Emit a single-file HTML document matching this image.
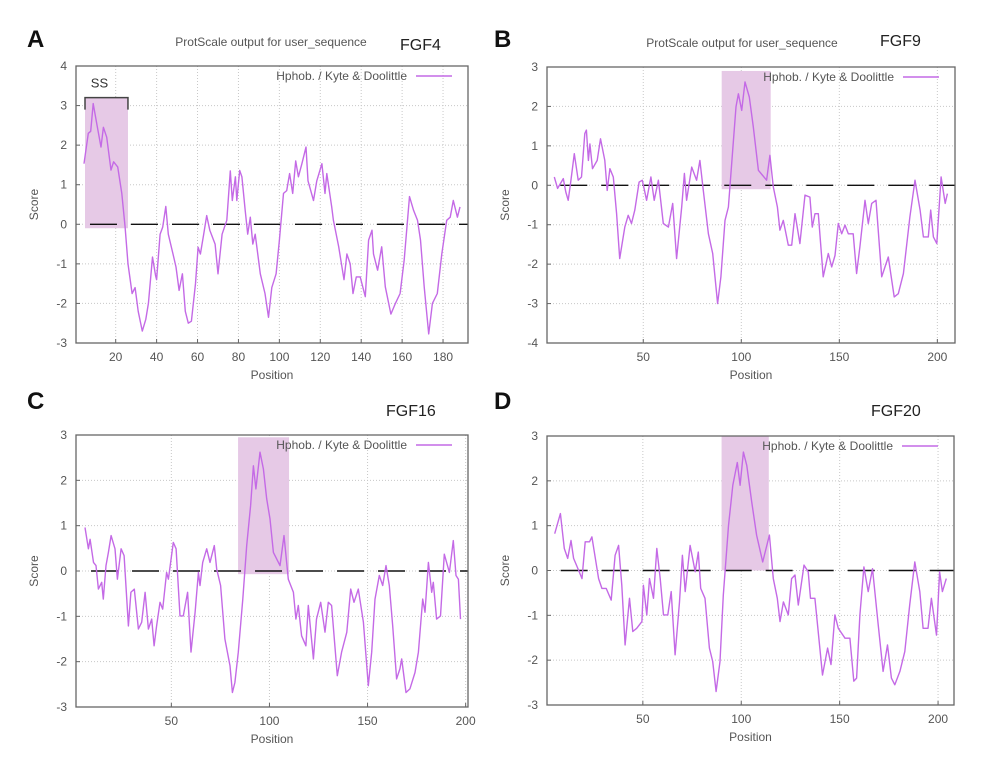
<!DOCTYPE html>
<html><head><meta charset="utf-8">
<style>
html,body{margin:0;padding:0;background:#fff;}
svg{display:block;font-family:"Liberation Sans",sans-serif;}
</style></head>
<body>
<svg id="fig" width="986" height="766" viewBox="0 0 986 766"></svg>
<script>
// ---- Data (position, Kyte-Doolittle score) ----
const fgf4Pos=[4.5,6.6,7.8,9,10.7,12.8,14,15.6,17.7,19,21,23,24.6,26,28,29.5,31,33,34.7,36,38,39.5,40,41.7,43,44.5,45.7,48,49.5,51,52.6,54,55.5,57,59,60.3,61.4,63,64.5,66,68.6,70,72,74.3,76,77,78.5,79.2,80.6,81.7,83.3,84.5,85.8,87,88.2,90.7,93,94.7,96.3,98.4,100,102,103.6,105,106.5,108,109.3,111,113,114,116.7,118.3,120.8,122.3,123.2,125.6,126.4,129,131.6,133,134.6,136,137.6,139.5,142,143.6,145.3,146,148,150,151.8,154.5,156.7,159,161,163.6,165.6,167.5,169,170.8,173,174.8,177.2,179.4,181.8,183.5,185,187,188.3];
const fgf4Val=[1.53,2.3,2.35,3.05,2.55,1.95,2.45,2.2,1.37,1.58,1.45,0.78,-0.07,-1,-1.75,-1.6,-2.2,-2.7,-2.4,-2,-0.83,-1.3,-1.4,-0.25,-0.07,0.45,-0.25,-0.75,-1.08,-1.67,-1.25,-2.2,-2.5,-2.45,-1.5,-0.58,-0.75,-0.25,0.22,-0.15,-0.5,-1.25,-0.25,0.1,1.35,0.6,1.2,0.6,1.36,1.2,0.35,-0.25,0.18,-0.5,-0.25,-1.25,-1.75,-2.35,-1.6,-1.25,-0.4,0.78,0.85,1.28,0.78,1.6,1.2,1.53,1.95,1.1,0.6,1.1,1.53,0.78,1.28,0.44,0.1,-0.57,-1.4,-0.75,-1,-1.75,-1.33,-1.33,-1.83,-0.4,-0.15,-0.75,-1.16,-0.57,-1.58,-2.27,-2,-1.75,-0.9,0.7,0.35,0.1,-0.4,-1.58,-2.77,-2,-1.75,-0.75,0.1,0.18,0.6,0.18,0.44];

const fgf9Pos=[4.6,6.3,9.2,10.5,11.7,13,14.8,16.8,18.5,20.2,21,22,22.8,24.1,26.5,28.2,30.4,31.6,33,34.7,36.4,38,40.6,42.3,44,45.7,47.9,49.5,51.7,53.9,55.6,57.7,60.2,62.8,65,67,69.6,71,72.1,74.7,77.2,78.9,80.6,83.2,85.4,87.9,89.6,91.7,93.4,95.6,97.3,98.5,100.2,101.9,104.1,106.1,108.7,112.9,114.6,116.3,118.4,119.7,121.4,124,125.7,127.4,129.1,129.9,132.5,135,136.2,137.6,139.3,141.8,144.4,146.1,147.8,149.5,151.2,152.9,154.6,157.1,158.8,160.5,163.1,164.8,166.5,168.7,171.6,173.3,175,178,180.1,182.7,186,188.6,191.2,192.9,195.4,196.6,198,199.7,201.9,204,205.1];
const fgf9Val=[0.21,-0.08,0.17,-0.17,-0.38,0.08,0.8,0.13,0.21,1.31,1.4,0.63,1.05,0.42,0.63,1.18,0.63,-0.13,0.42,0.21,-0.72,-1.86,-1.06,-0.76,-0.97,-0.63,0.08,0.13,-0.38,0.21,-0.38,0.13,-0.97,-1.06,-0.46,-1.86,-0.55,0.3,-0.38,0.46,0.13,0.63,-0.13,-1.23,-1.73,-3,-2.32,-0.89,-0.55,0.89,1.99,2.32,1.9,2.62,2.24,1.48,0.38,0.13,0.76,-0.04,-0.55,-1.14,-0.89,-1.52,-1.52,-0.72,-1.23,-1.48,-0.25,-0.3,-1.06,-0.72,-0.72,-2.32,-1.73,-2.07,-1.78,-0.97,-1.23,-1.01,-1.23,-1.23,-2.24,-1.56,-0.38,-0.97,-0.46,-0.38,-2.32,-2.07,-1.82,-2.83,-2.75,-2.24,-0.8,0.13,-0.63,-1.31,-1.31,-0.63,-1.31,-1.48,0.21,-0.46,-0.21];

const fgf16Pos=[6,7.7,8.6,10.3,11.6,12.8,14.5,15.3,16.7,17.9,19.3,21.3,22.5,24.4,25.9,28.1,29.4,31.1,33.2,34.9,36.6,38.3,40,41.2,42.5,44.2,45.6,47.6,48.5,51,52.4,54.4,56.1,58.3,60,62.1,63.8,64.6,66,68,69.7,71.9,73.1,75.1,77.3,79.9,81.1,82.4,84.1,86.4,88.4,90.4,91.8,93.1,95.2,96.9,98.6,100.3,102,105.4,107.4,109.6,112.2,113.5,114.7,116.4,118.6,119.8,122.4,124,126.1,128.3,130,131.7,134.6,136.8,139.4,141.4,143.1,145.3,147.9,150.4,152.1,153.8,156,157.7,159.4,161.1,162.8,164.8,166.5,167.4,169.6,171.6,174.2,175.9,178.1,179.3,181,182.7,183.5,185.2,187.2,189.1,191.7,193.7,195.1,196.3,197.4];
const fgf16Val=[0.96,0.49,0.7,0.19,0.12,-0.4,-0.25,-0.62,0.12,0.41,0.78,0.49,-0.18,0.49,0.34,-1.21,-0.47,-0.4,-1.28,-1.13,-0.47,-1.28,-1.06,-1.65,-1.21,-0.69,-0.84,-0.03,-0.18,0.63,0.49,-0.99,-0.99,-0.47,-1.79,-0.91,-0.03,-0.32,0.19,0.49,0.19,0.56,0.04,-0.32,-1.5,-2.09,-2.68,-2.46,-1.79,-0.62,0.56,1.44,2.32,1.81,2.62,2.25,1.59,1.15,0.41,0.12,0.78,-0.18,-0.47,-1.06,-0.76,-1.43,-1.65,-0.76,-1.94,-1.06,-0.69,-1.35,-0.69,-0.76,-2.31,-1.79,-1.35,-0.4,-0.69,-0.4,-1.13,-2.53,-1.79,-0.62,-0.1,-0.32,0.12,-0.32,-1.21,-2.38,-2.16,-1.94,-2.68,-2.6,-2.24,-1.79,-0.62,-0.91,0.19,-0.47,-0.25,-1.06,-0.99,0.37,-0.03,0.67,-0.1,-0.18,-1.06];

const fgf20Pos=[5.2,8.1,10.1,11.8,13.5,14.8,17.4,19.1,20.7,22.9,24.1,26.7,27.5,29.2,31.4,33.9,35.9,37.7,39.3,41,43.2,44.9,46.9,49.5,50.3,52,53.4,55.4,57.1,58.8,60.5,62.7,64.4,66.4,68.6,70.1,71.5,74,76.6,78.2,79.4,81.6,83.8,85.5,87.2,89.2,90.9,93.5,95.7,98,99.4,101.1,102.8,105.3,107.8,110.9,114.3,116.3,118.3,119.7,121.4,123.9,125.6,127.3,129,131.9,134,135.2,137.4,141.3,143.9,145.6,147.6,149.3,152.7,155.2,157.2,158.6,160.3,162.3,164.5,166.7,169.6,172.1,174.3,176.3,178,180.6,183.1,185.6,188.2,190.7,192.4,194.9,196.6,199.2,200.8,202.2,204.2];
const fgf20Val=[0.82,1.27,0.49,0.27,0.67,0.27,0,-0.18,0.64,0.64,0.75,0.04,-0.18,-0.4,-0.4,-0.66,0.34,0.56,-0.33,-1.66,-0.62,-1.36,-1.29,-1.14,-0.33,-0.99,-0.18,-0.62,0.49,-0.18,-0.99,-0.99,-0.47,-1.88,-0.7,0.34,-0.47,0.56,-0.03,0.41,-0.4,-0.62,-1.73,-2.03,-2.7,-2.03,-0.55,1.0,1.9,2.41,1.9,2.64,2.34,1.53,0.79,0.19,0.79,-0.18,-0.62,-1.14,-0.7,-0.99,-0.18,-0.1,-0.77,0.12,-0.03,-0.62,-0.62,-2.33,-1.73,-2.1,-0.99,-1.29,-1.51,-1.51,-2.47,-2.4,-0.99,0.08,-0.47,0.04,-1.21,-2.25,-1.66,-2.4,-2.55,-2.25,-1.81,-0.77,0.19,-0.47,-1.29,-1.29,-0.62,-1.44,-0.03,-0.47,-0.18];

const xTicksA=[20,40,60,80,100,120,140,160,180];
const xTicksB=[50,100,150,200];
const yTicksA=[4,3,2,1,0,-1,-2,-3];
const yTicksB=[3,2,1,0,-1,-2,-3,-4];
const yTicksC=[3,2,1,0,-1,-2,-3];
const names=["FGF4","FGF9","FGF16","FGF20"];
const letters=["A","B","C","D"];
// shaded hydrophobic regions [xStart,xEnd,yTop,yBottom]
const regionA=[5,26,3.2,-0.1];
const regionB=[90,115,2.9,-0.1];
const regionC=[84,110,2.95,-0.07];
const regionD=[90,114,3.0,0];

const NS="http://www.w3.org/2000/svg";
const svg=document.getElementById('fig');
function mk(tag,attrs,parent){const e=document.createElementNS(NS,tag);for(const k in attrs)e.setAttribute(k,attrs[k]);(parent||svg).appendChild(e);return e;}

const panels=[
 {L:76,R:468,T:66,B:343,xmin:0.6,xmax:192.2,ymin:-3,ymax:4,pos:fgf4Pos,val:fgf4Val,xt:xTicksA,yt:yTicksA,reg:regionA,title:true,lx:27,ly:47,nx:400,ny:50,ss:true},
 {L:547,R:955,T:67,B:343,xmin:0.9,xmax:209,ymin:-4,ymax:3,pos:fgf9Pos,val:fgf9Val,xt:xTicksB,yt:yTicksB,reg:regionB,title:true,lx:494,ly:47,nx:880,ny:46},
 {L:76,R:468,T:435,B:707,xmin:1.4,xmax:201.2,ymin:-3,ymax:3,pos:fgf16Pos,val:fgf16Val,xt:xTicksB,yt:yTicksC,reg:regionC,title:false,lx:27,ly:409,nx:386,ny:416},
 {L:547,R:954,T:436,B:705,xmin:1.3,xmax:208.1,ymin:-3,ymax:3,pos:fgf20Pos,val:fgf20Val,xt:xTicksB,yt:yTicksC,reg:regionD,title:false,lx:494,ly:409,nx:871,ny:416}
];

panels.forEach((p,i)=>{
  const g=mk('g',{});
  
  
  const X=v=>p.L+(v-p.xmin)/(p.xmax-p.xmin)*(p.R-p.L);
  const Y=v=>p.B-(v-p.ymin)/(p.ymax-p.ymin)*(p.B-p.T);
  // grid
  p.xt.forEach(t=>{const l=mk('line',{x1:X(t),x2:X(t),y1:p.T,y2:p.B,stroke:'#c8c8c8','stroke-width':1,'stroke-dasharray':'1,2'},g);});
  p.yt.forEach(t=>{const l=mk('line',{x1:p.L,x2:p.R,y1:Y(t),y2:Y(t),stroke:'#c8c8c8','stroke-width':1,'stroke-dasharray':'1,2'},g);});
  // region
  const r=p.reg;
  const rect=mk('rect',{x:X(r[0]),y:Y(r[2]),width:X(r[1])-X(r[0]),height:Y(r[3])-Y(r[2]),fill:'#e6c9e6'},g);
  
  
  // zero dashed line
  const z=mk('line',{x1:X(p.pos[0])+6,x2:p.R,y1:Y(0),y2:Y(0),stroke:'#111','stroke-width':1.4,'stroke-dasharray':'27,14'},g);
  
  
  // series
  const d=p.pos.map((v,k)=>(k?'L':'M')+X(v).toFixed(1)+','+Y(p.val[k]).toFixed(1)).join(' ');
  const path=mk('path',{d:d,fill:'none',stroke:'#c46ae6','stroke-width':1.4,'stroke-linejoin':'round'},g);
  
  
  // frame
  const fr=mk('rect',{x:p.L,y:p.T,width:p.R-p.L,height:p.B-p.T,fill:'none',stroke:'#666','stroke-width':1.3},g);
  
  
  // ticks & labels
  p.xt.forEach(t=>{
    mk('line',{x1:X(t),x2:X(t),y1:p.B,y2:p.B-4,stroke:'#666'},g);
    const tx=mk('text',{x:X(t),y:p.B+18,'text-anchor':'middle','font-size':12,fill:'#555'},g);
    tx.textContent=t;
    
    
  });
  p.yt.forEach(t=>{
    mk('line',{x1:p.L,x2:p.L+4,y1:Y(t),y2:Y(t),stroke:'#666'},g);
    const tx=mk('text',{x:p.L-9,y:Y(t)+4,'text-anchor':'end','font-size':12,fill:'#555'},g);
    tx.textContent=t;
    
    
  });
  const xl=mk('text',{x:(p.L+p.R)/2,y:p.B+36,'text-anchor':'middle','font-size':12,fill:'#555'},g);
  xl.textContent='Position';
  
  
  const yc=(p.T+p.B)/2;
  const yl=mk('text',{x:p.L-38,y:yc,'text-anchor':'middle','font-size':12,fill:'#555',transform:'rotate(-90 '+(p.L-38)+' '+yc+')'},g);
  yl.textContent='Score';
  
  
  // legend
  const lg=mk('text',{x:p.R-61,y:p.T+14,'text-anchor':'end','font-size':12,fill:'#555'},g);
  lg.textContent='Hphob. / Kyte & Doolittle';
  
  
  const ll=mk('line',{x1:p.R-52,x2:p.R-16,y1:p.T+10,y2:p.T+10,stroke:'#c46ae6','stroke-width':1.5},g);
  
  
  // titles
  if(p.title){
    const t=mk('text',{x:p.L+195,y:p.T-20,'text-anchor':'middle','font-size':12,fill:'#555'},g);
    t.textContent='ProtScale output for user_sequence';
    
    
  }
  const nm=mk('text',{x:p.nx,y:p.ny,'font-size':16,fill:'#222'},g);
  nm.textContent=names[i];
  
  
  const lt=mk('text',{x:p.lx,y:p.ly,'font-size':24,'font-weight':'bold',fill:'#111'},g);
  lt.textContent=letters[i];
  
  
  if(p.ss){
    const br=mk('path',{d:'M'+X(r[0])+','+(Y(r[2])+12)+' V'+Y(r[2])+' H'+X(r[1])+' V'+(Y(r[2])+12),fill:'none',stroke:'#444','stroke-width':1.5},g);
    
    
    const ss=mk('text',{x:(X(r[0])+X(r[1]))/2-7,y:Y(r[2])-10,'text-anchor':'middle','font-size':13,fill:'#333'},g);
    ss.textContent='SS';
    
    
  }
});
</script>
</body></html>
